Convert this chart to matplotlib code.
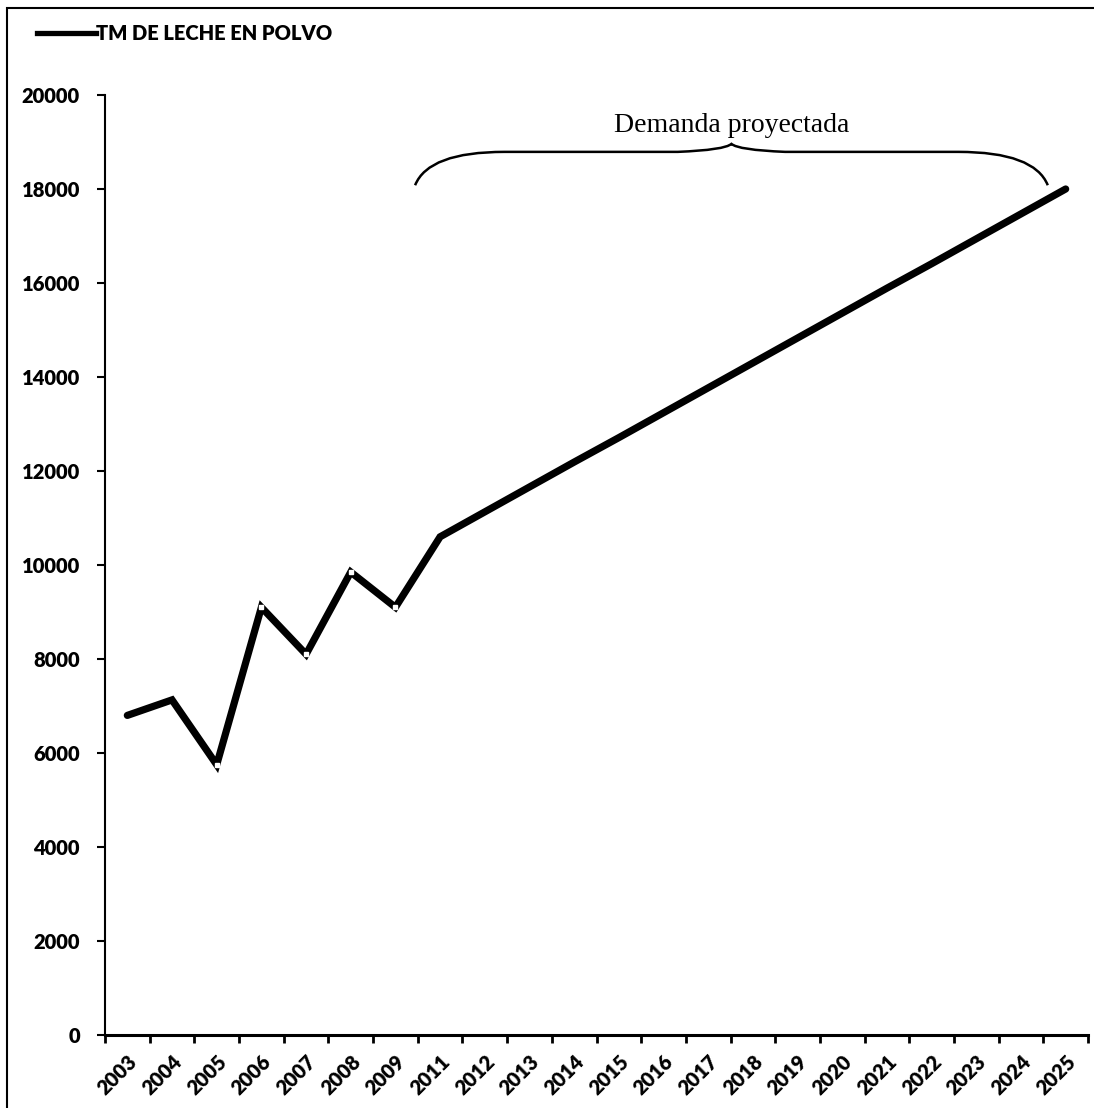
import matplotlib
matplotlib.use("Agg")
import matplotlib.pyplot as plt
from matplotlib.patches import Rectangle, PathPatch
from matplotlib.path import Path
import numpy as np

# Demanda de leche en polvo (TM): histórico y proyección
years = ["2003", "2004", "2005", "2006", "2007", "2008", "2009",
         "2011", "2012", "2013", "2014", "2015", "2016", "2017",
         "2018", "2019", "2020", "2021", "2022", "2023", "2024", "2025"]
tm_leche = [6800, 7130, 5750, 9100, 8100, 9850, 9100,
            10600, 11130, 11660, 12190, 12710, 13240, 13770,
            14300, 14830, 15360, 15890, 16410, 16940, 17470, 18000]
y_ticks = [0, 2000, 4000, 6000, 8000, 10000, 12000, 14000, 16000, 18000, 20000]
series_label = "TM DE LECHE EN POLVO"
brace_label = "Demanda proyectada"

SANS = ["Lato", "DejaVu Sans"]

W, H = 1094, 1108
fig = plt.figure(figsize=(W / 100, H / 100), dpi=100)
ax = fig.add_axes([105 / W, 1 - 1035 / H, (1088 - 105) / W, (1035 - 95) / H])

x = np.arange(len(years))
ax.plot(x, tm_leche, color="black", lw=5.2, solid_joinstyle="miter",
        solid_capstyle="round", zorder=3)
# small white dots on the historical points
ax.plot(x[2:7], tm_leche[2:7], ls="none", marker="s", ms=2.2,
        mfc="white", mec="white", zorder=4)

ax.set_xlim(-0.5, len(years) - 0.5)
ax.set_ylim(0, 20000)
ax.set_yticks(y_ticks)
ax.set_yticklabels([str(v) for v in y_ticks], fontsize=14.5,
                   fontweight="heavy", family=SANS)
ax.set_xticks(x)
ax.set_xticklabels(years, rotation=45, ha="right", va="top",
                   rotation_mode="anchor", fontsize=14.5, fontweight="heavy",
                   family=SANS)
ax.set_xticks(np.arange(-0.5, len(years), 1.0), minor=True)
ax.tick_params(axis="x", which="major", length=0, pad=12)
ax.tick_params(axis="x", which="minor", length=6, width=2, direction="out")
ax.tick_params(axis="y", length=6, width=1.5, direction="out", pad=12)

for s in ("top", "right"):
    ax.spines[s].set_visible(False)
ax.spines["left"].set_linewidth(1.5)
ax.spines["bottom"].set_linewidth(2.2)

# brace over the projected years
x0, x1 = 6.44, 20.6
xm = (x0 + x1) / 2
yb, yt, yp = 18080, 18790, 18960
verts = [(x0, yb), (x0 + 0.3, yt), (x0 + 2.0, yt),
         (xm - 1.2, yt), (xm - 0.15, yt + 40), (xm, yp),
         (xm + 0.15, yt + 40), (xm + 1.2, yt),
         (x1 - 2.0, yt), (x1 - 0.3, yt), (x1, yb)]
codes = [Path.MOVETO, Path.CURVE3, Path.CURVE3,
         Path.LINETO, Path.CURVE3, Path.CURVE3,
         Path.CURVE3, Path.CURVE3,
         Path.LINETO, Path.CURVE3, Path.CURVE3]
ax.add_patch(PathPatch(Path(verts, codes), fill=False, lw=1.8,
                       color="black", clip_on=False))
ax.text(xm, 19213, brace_label, ha="center", va="baseline", fontsize=20,
        family="Liberation Serif", color="black")

# legend sample at top left
fig.add_artist(plt.Line2D([37 / W, 96 / W], [1 - 33 / H, 1 - 33 / H],
                          color="black", lw=3.8, transform=fig.transFigure))
fig.text(96 / W, 1 - 33 / H, series_label, ha="left", va="center",
         fontsize=14.5, fontweight="heavy", family=SANS)

# outer frame
fig.add_artist(Rectangle((7 / W, -0.1), 1.3, 1 - 8 / H + 0.1,
                         transform=fig.transFigure, fill=False,
                         lw=1.5, ec="black"))

fig.savefig("out.png", dpi=100, facecolor="white")
